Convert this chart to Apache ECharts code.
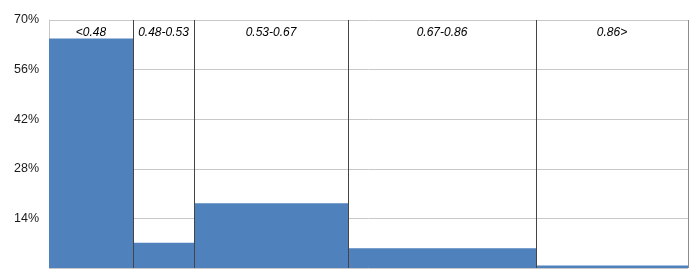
<!DOCTYPE html>
<html>
<head>
<meta charset="utf-8">
<script src="https://cdn.jsdelivr.net/npm/echarts@6/dist/echarts.min.js"></script>
<style>
html,body{margin:0;padding:0;background:#fff;}
#chart{width:700px;height:275px;}
</style>
</head>
<body>
<div id="chart"></div>
<script>
const binLabels = ['<0.48', '0.48-0.53', '0.53-0.67', '0.67-0.86', '0.86>'];
const binWidths = [84, 61, 154, 188, 152];
const shares = [64.8, 7.1, 18.3, 5.6, 0.7];
const yTicks = [14, 28, 42, 56, 70];

const data = [];
let acc = 0;
binWidths.forEach((w, i) => {
  data.push([acc, acc + w, shares[i], i]);
  acc += w;
});
const total = acc;
const yMax = yTicks[yTicks.length - 1];
const yStep = yTicks[0];

const chart = echarts.init(document.getElementById('chart'), null, {renderer: 'canvas'});
chart.setOption({
  animation: false,
  backgroundColor: '#fff',
  grid: {left: 49, right: 12, top: 20, bottom: 7},
  xAxis: {type: 'value', min: 0, max: total, show: false},
  yAxis: {
    type: 'value', min: 0, max: yMax, interval: yStep,
    axisLine: {show: true, lineStyle: {color: '#c8c8c8', width: 1}},
    axisTick: {show: false},
    splitLine: {show: true, lineStyle: {color: '#c8c8c8', width: 1}},
    axisLabel: {
      formatter: v => v === 0 ? '' : v + '%',
      color: '#1a1a1a', fontSize: 12.5, fontFamily: 'Liberation Sans, Arial, sans-serif', margin: 10
    }
  },
  series: [{
    type: 'custom',
    data: data,
    renderItem: function (params, api) {
      const x0 = api.value(0), x1 = api.value(1), v = api.value(2), idx = api.value(3);
      const p0 = api.coord([x0, 0]);
      const p1 = api.coord([x1, v]);
      const top = api.coord([x1, yMax]);
      const last = idx === binWidths.length - 1;
      const rx = Math.round(p1[0]) + 0.5;
      return {
        type: 'group',
        children: [
          {
            type: 'rect',
            shape: {x: p0[0], y: p1[1], width: p1[0] - p0[0], height: p0[1] - p1[1]},
            style: {fill: '#4f81bd'}
          },
          {
            type: 'line',
            shape: {x1: rx, y1: p0[1], x2: rx, y2: top[1]},
            style: {stroke: last ? '#8c8c8c' : '#444444', lineWidth: 1},
            z2: 10
          },
          {
            type: 'text',
            style: {
              text: binLabels[idx],
              x: (p0[0] + p1[0]) / 2,
              y: top[1] + 13,
              align: 'center',
              verticalAlign: 'middle',
              fontStyle: 'italic',
              fontSize: 12,
              fontFamily: 'Liberation Sans, Arial, sans-serif',
              fill: '#000'
            },
            z2: 11
          }
        ]
      };
    }
  }]
});
</script>
</body>
</html>
